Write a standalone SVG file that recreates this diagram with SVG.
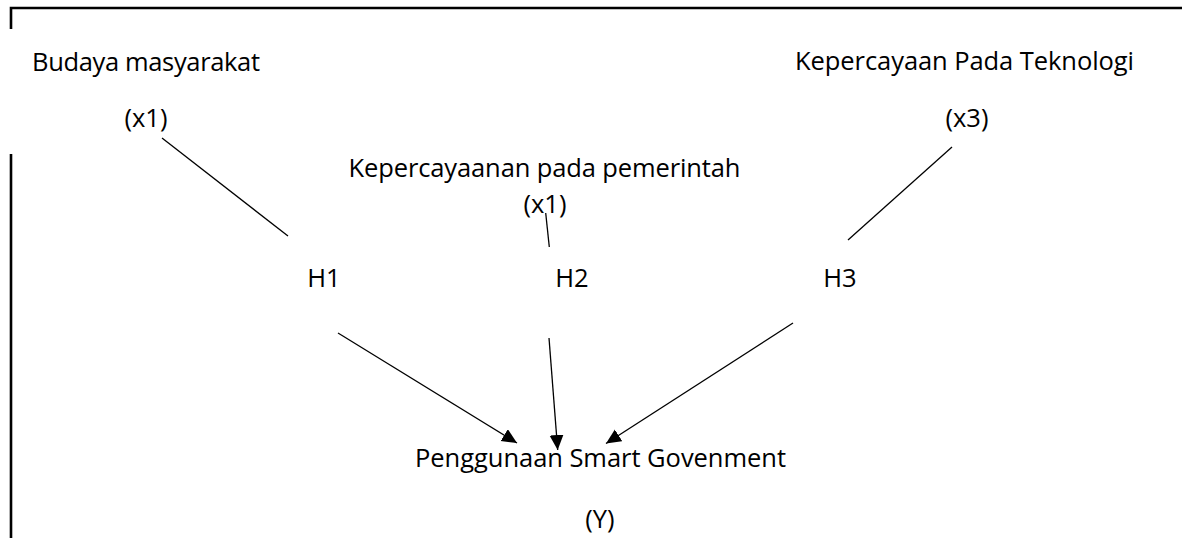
<svg xmlns="http://www.w3.org/2000/svg" width="1182" height="538" viewBox="0 0 1182 538">
<defs>
<style>
text{font-family:"Open Sans",Lato,"Liberation Sans",sans-serif;font-size:25.5px;fill:#000}
.c{text-anchor:middle}
.ln{stroke:#000;stroke-width:1.3;fill:none}
.bd{stroke:#000;stroke-width:2.6;fill:none}
</style>
<marker id="ah" markerUnits="userSpaceOnUse" markerWidth="16" markerHeight="15" refX="15" refY="7" orient="auto">
<path d="M0,0 L15,7 L0,14 z" fill="#000"/>
</marker>
</defs>
<rect width="1182" height="538" fill="#fff"/>
<g id="frame">
<polyline class="bd" points="11,29 11,8 1182,8"/>
<line class="bd" x1="11" y1="154" x2="11" y2="538"/>
</g>
<g id="connectors">
<line class="ln" x1="162" y1="138" x2="288" y2="236"/>
<line class="ln" x1="952" y1="147" x2="848" y2="240"/>
<line class="ln" x1="545.7" y1="213" x2="549.3" y2="247"/>
<line class="ln" x1="338" y1="333" x2="517" y2="443" marker-end="url(#ah)"/>
<line class="ln" x1="549" y1="338" x2="557.7" y2="450" marker-end="url(#ah)"/>
<line class="ln" x1="793" y1="323" x2="606" y2="443.5" marker-end="url(#ah)"/>
</g>
<g id="x1-budaya">
<text x="32" y="70.5" textLength="228">Budaya masyarakat</text>
<text class="c" x="146" y="127">(x1)</text>
</g>
<g id="x3-teknologi">
<text x="795" y="70" textLength="339">Kepercayaan Pada Teknologi</text>
<text class="c" x="967" y="127">(x3)</text>
</g>
<g id="x2-pemerintah">
<text x="348.5" y="176.5" textLength="392">Kepercayaanan pada pemerintah</text>
<text class="c" x="545" y="213">(x1)</text>
</g>
<g id="h1"><text class="c" x="324" y="287">H1</text></g>
<g id="h2"><text class="c" x="572" y="287">H2</text></g>
<g id="h3"><text class="c" x="840" y="287">H3</text></g>
<g id="y-smart">
<text x="415" y="467" textLength="371">Penggunaan Smart Govenment</text>
<text class="c" x="600" y="528">(Y)</text>
</g>
</svg>
